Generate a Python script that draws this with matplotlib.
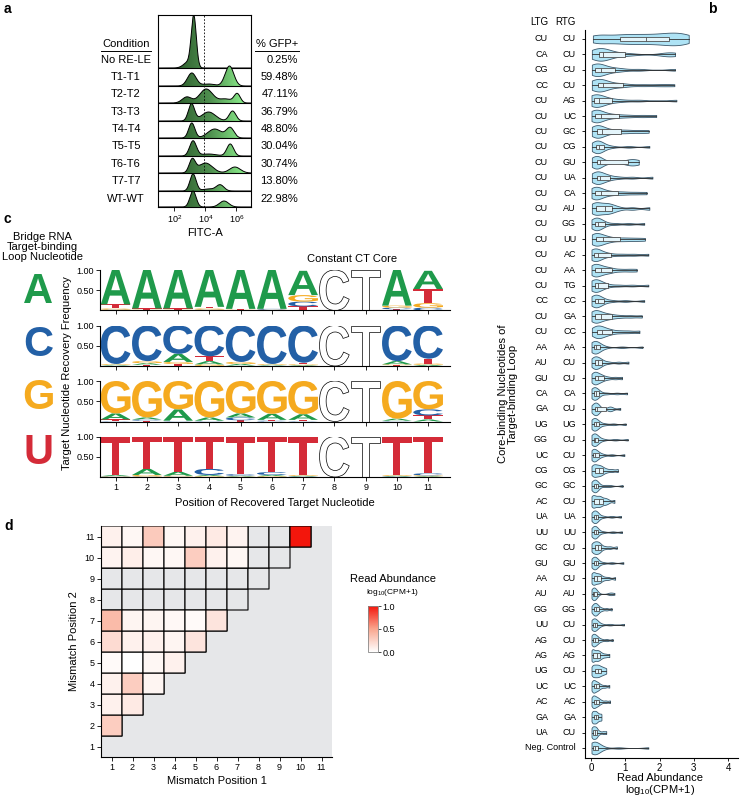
import numpy as np
import matplotlib
matplotlib.use('Agg')
import matplotlib.pyplot as plt
from matplotlib.colors import LinearSegmentedColormap, ListedColormap
from matplotlib.patches import PathPatch, Polygon
from matplotlib.textpath import TextPath
from matplotlib.font_manager import FontProperties
from matplotlib.transforms import Affine2D, blended_transform_factory
from matplotlib.lines import Line2D

plt.rcParams['font.family'] = ['Liberation Sans', 'DejaVu Sans']
plt.rcParams['mathtext.default'] = 'regular'
plt.rcParams['axes.linewidth'] = 0.8

# ---------------- data ----------------
# panel a: flow histograms, peaks as (log10 centre, width, height in px)
conditions = ['No RE-LE', 'T1-T1', 'T2-T2', 'T3-T3', 'T4-T4',
              'T5-T5', 'T6-T6', 'T7-T7', 'WT-WT']
gfp_pct = [0.25, 59.48, 47.11, 36.79, 48.80, 30.04, 30.74, 13.80, 22.98]
flow_peaks = [
    [(3.25, 0.16, 50), (2.9, 0.3, 6)],
    [(3.12, 0.28, 13), (5.55, 0.28, 20), (4.2, 0.4, 2)],
    [(2.8, 0.3, 6), (4.05, 0.42, 14), (6.05, 0.2, 9), (5.3, 0.4, 4)],
    [(3.1, 0.2, 17), (4.2, 0.45, 9), (5.75, 0.22, 10)],
    [(3.12, 0.2, 15), (4.6, 0.45, 9), (5.6, 0.25, 10)],
    [(3.2, 0.22, 15), (5.6, 0.22, 12), (4.2, 0.5, 2)],
    [(3.15, 0.2, 13), (4.0, 0.45, 10), (5.9, 0.35, 6)],
    [(3.2, 0.2, 17), (4.95, 0.25, 6), (4.2, 0.4, 2)],
    [(3.2, 0.2, 16), (5.2, 0.3, 6)],
]
gfp_gate = 3.92

# panel b: read abundance per core-binding pair
ltg = ['CU', 'CA', 'CG', 'CC', 'CU', 'CU', 'CU', 'CU', 'CU', 'CU', 'CU', 'CU',
       'CU', 'CU', 'CU', 'CU', 'CU', 'CC', 'CU', 'CU', 'AA', 'AU', 'GU', 'CA',
       'GA', 'UG', 'GG', 'UC', 'CG', 'GC', 'AC', 'UA', 'UU', 'GC', 'GU', 'AA',
       'AU', 'GG', 'UU', 'AG', 'AG', 'UG', 'UC', 'AC', 'GA', 'UA', '']
rtg = ['CU', 'CU', 'CU', 'CU', 'AG', 'UC', 'GC', 'CG', 'GU', 'UA', 'CA', 'AU',
       'GG', 'UU', 'AC', 'AA', 'TG', 'CC', 'GA', 'CC', 'AA', 'CU', 'CU', 'CA',
       'CU', 'UG', 'CU', 'CU', 'CG', 'GC', 'CU', 'UA', 'UU', 'CU', 'GU', 'CU',
       'AU', 'GG', 'CU', 'CU', 'AG', 'CU', 'UC', 'AC', 'GA', 'CU', 'Neg. Control']
abundance = [
    [0.05, 0.2, 0.4, 0.7, 0.9, 1.1, 1.3, 1.5, 1.7, 1.9, 2.1, 2.25, 2.4, 2.55, 2.7, 2.85],
    [0.02, 0.08, 0.15, 0.22, 0.26, 0.3, 0.33, 0.36, 0.45, 0.6, 0.85, 1.15, 2.15, 2.3, 2.45],
    [0.02, 0.05, 0.09, 0.12, 0.18, 0.24, 0.28, 0.35, 0.5, 0.7, 0.9, 1.4, 2.45],
    [0.02, 0.08, 0.14, 0.18, 0.24, 0.3, 0.33, 0.36, 0.55, 0.85, 0.95, 1.5, 2.0, 2.43],
    [0.01, 0.04, 0.07, 0.09, 0.14, 0.18, 0.22, 0.3, 0.45, 0.6, 0.9, 1.4, 2.49],
    [0.01, 0.05, 0.08, 0.11, 0.18, 0.24, 0.28, 0.4, 0.6, 0.8, 1.1, 1.5, 1.9],
    [0.02, 0.07, 0.12, 0.16, 0.22, 0.28, 0.33, 0.45, 0.65, 0.88, 1.1, 1.4, 1.68],
    [0.02, 0.07, 0.11, 0.14, 0.17, 0.2, 0.22, 0.27, 0.32, 0.38, 0.6, 1.1, 1.7],
    [0.02, 0.07, 0.12, 0.15, 0.18, 0.2, 0.22, 0.3, 0.6, 1.0, 1.1, 1.2, 1.3, 1.39],
    [0.02, 0.07, 0.12, 0.16, 0.2, 0.23, 0.26, 0.35, 0.45, 0.55, 0.8, 1.2, 1.79],
    [0.01, 0.05, 0.08, 0.11, 0.17, 0.23, 0.28, 0.4, 0.55, 0.77, 1.0, 1.3, 1.62],
    [0.02, 0.07, 0.11, 0.15, 0.22, 0.33, 0.41, 0.48, 0.55, 0.62, 0.8, 1.2, 1.7],
    [0.01, 0.05, 0.09, 0.12, 0.15, 0.18, 0.2, 0.25, 0.32, 0.4, 0.7, 1.1, 1.55],
    [0.02, 0.06, 0.1, 0.14, 0.2, 0.28, 0.34, 0.45, 0.6, 0.83, 1.05, 1.3, 1.57],
    [0.01, 0.04, 0.06, 0.09, 0.13, 0.16, 0.19, 0.28, 0.4, 0.57, 0.9, 1.25, 1.67],
    [0.01, 0.04, 0.07, 0.1, 0.16, 0.22, 0.26, 0.33, 0.42, 0.52, 0.62, 0.85, 1.1, 1.33],
    [0.01, 0.04, 0.07, 0.1, 0.13, 0.16, 0.19, 0.25, 0.35, 0.48, 0.8, 1.2, 1.67],
    [0.01, 0.04, 0.07, 0.1, 0.13, 0.16, 0.19, 0.24, 0.3, 0.37, 0.6, 1.0, 1.55],
    [0.01, 0.05, 0.08, 0.11, 0.17, 0.23, 0.28, 0.38, 0.5, 0.62, 0.85, 1.15, 1.48],
    [0.02, 0.08, 0.13, 0.18, 0.23, 0.28, 0.32, 0.4, 0.5, 0.62, 0.85, 1.1, 1.41],
    [0.01, 0.03, 0.06, 0.08, 0.1, 0.12, 0.14, 0.17, 0.21, 0.25, 0.4, 0.9, 1.5],
    [0.01, 0.04, 0.07, 0.1, 0.13, 0.16, 0.19, 0.23, 0.28, 0.33, 0.5, 0.8, 1.09],
    [0.01, 0.04, 0.07, 0.1, 0.13, 0.16, 0.2, 0.25, 0.3, 0.37, 0.5, 0.7, 0.9],
    [0.01, 0.03, 0.05, 0.07, 0.09, 0.11, 0.13, 0.16, 0.2, 0.24, 0.45, 0.75, 1.05],
    [0.01, 0.04, 0.07, 0.1, 0.12, 0.14, 0.16, 0.18, 0.21, 0.24, 0.5, 0.55, 0.6, 0.85],
    [0.01, 0.03, 0.05, 0.07, 0.09, 0.11, 0.13, 0.16, 0.2, 0.24, 0.4, 0.65, 1.01],
    [0.01, 0.03, 0.05, 0.07, 0.09, 0.1, 0.12, 0.14, 0.17, 0.2, 0.35, 0.7, 1.07],
    [0.01, 0.03, 0.04, 0.06, 0.08, 0.1, 0.12, 0.15, 0.19, 0.24, 0.35, 0.6, 0.97],
    [0.01, 0.04, 0.07, 0.1, 0.14, 0.18, 0.22, 0.26, 0.3, 0.35, 0.45, 0.6, 0.78],
    [0.01, 0.03, 0.05, 0.08, 0.1, 0.12, 0.14, 0.16, 0.18, 0.21, 0.4, 0.55, 0.92],
    [0.01, 0.03, 0.05, 0.08, 0.12, 0.16, 0.2, 0.24, 0.27, 0.3, 0.38, 0.42, 0.5, 0.68],
    [0.01, 0.03, 0.05, 0.08, 0.1, 0.12, 0.14, 0.16, 0.18, 0.21, 0.35, 0.6, 0.87],
    [0.01, 0.03, 0.05, 0.08, 0.1, 0.11, 0.13, 0.15, 0.17, 0.19, 0.35, 0.63, 0.9],
    [0.01, 0.04, 0.07, 0.1, 0.13, 0.16, 0.19, 0.22, 0.25, 0.28, 0.4, 0.55, 0.75],
    [0.01, 0.03, 0.05, 0.07, 0.09, 0.11, 0.13, 0.15, 0.17, 0.19, 0.35, 0.6, 0.94],
    [0.01, 0.03, 0.05, 0.07, 0.1, 0.14, 0.18, 0.22, 0.25, 0.28, 0.38, 0.5, 0.7],
    [0.01, 0.02, 0.03, 0.05, 0.06, 0.07, 0.08, 0.09, 0.1, 0.12, 0.14, 0.16, 0.18, 0.53, 0.58, 0.68],
    [0.01, 0.04, 0.07, 0.09, 0.11, 0.13, 0.15, 0.17, 0.2, 0.24, 0.32, 0.45, 0.6],
    [0.01, 0.02, 0.04, 0.06, 0.08, 0.1, 0.12, 0.14, 0.16, 0.18, 0.3, 0.55, 0.96],
    [0.01, 0.02, 0.04, 0.06, 0.08, 0.1, 0.12, 0.15, 0.18, 0.21, 0.3, 0.45, 0.63],
    [0.01, 0.02, 0.04, 0.06, 0.1, 0.14, 0.17, 0.2, 0.23, 0.27, 0.33, 0.42, 0.53],
    [0.01, 0.04, 0.07, 0.1, 0.13, 0.16, 0.19, 0.22, 0.25, 0.29, 0.33, 0.38, 0.44],
    [0.01, 0.03, 0.05, 0.07, 0.09, 0.11, 0.14, 0.17, 0.2, 0.23, 0.3, 0.4, 0.53],
    [0.01, 0.03, 0.05, 0.07, 0.09, 0.11, 0.14, 0.17, 0.2, 0.23, 0.3, 0.42, 0.55],
    [0.01, 0.03, 0.05, 0.07, 0.09, 0.11, 0.13, 0.15, 0.17, 0.2, 0.23, 0.27, 0.3],
    [0.01, 0.02, 0.04, 0.06, 0.08, 0.1, 0.12, 0.14, 0.16, 0.18, 0.25, 0.35, 0.44],
    [0.01, 0.02, 0.04, 0.06, 0.08, 0.1, 0.12, 0.15, 0.18, 0.21, 0.35, 0.8, 1.67],
]

# panel c: recovered target nucleotide frequencies (A, C, G, T) per position
logo_positions = [1, 2, 3, 4, 5, 6, 7, 10, 11]
core_positions = [8, 9]
loop_nts = ['A', 'C', 'G', 'U']
freq_loop_A = [[0.85, 0.02, 0.03, 0.10], [0.95, 0.01, 0.01, 0.03],
               [0.95, 0.01, 0.01, 0.03], [0.91, 0.02, 0.03, 0.04],
               [0.96, 0.01, 0.01, 0.02], [0.96, 0.02, 0.01, 0.01],
               [0.60, 0.12, 0.16, 0.10], [0.88, 0.04, 0.05, 0.03],
               [0.45, 0.07, 0.11, 0.35]]
freq_loop_C = [[0.02, 0.95, 0.02, 0.01], [0.04, 0.88, 0.05, 0.03],
               [0.20, 0.70, 0.05, 0.05], [0.08, 0.76, 0.04, 0.12],
               [0.04, 0.90, 0.05, 0.01], [0.02, 0.95, 0.02, 0.01],
               [0.02, 0.92, 0.02, 0.04], [0.08, 0.88, 0.02, 0.02],
               [0.03, 0.82, 0.03, 0.12]]
freq_loop_G = [[0.15, 0.01, 0.80, 0.04], [0.05, 0.03, 0.90, 0.02],
               [0.28, 0.01, 0.70, 0.01], [0.08, 0.01, 0.90, 0.01],
               [0.10, 0.07, 0.80, 0.03], [0.15, 0.02, 0.81, 0.02],
               [0.14, 0.01, 0.82, 0.03], [0.05, 0.01, 0.93, 0.01],
               [0.05, 0.15, 0.70, 0.10]]
freq_loop_U = [[0.03, 0.01, 0.01, 0.95], [0.15, 0.01, 0.04, 0.80],
               [0.10, 0.01, 0.02, 0.87], [0.03, 0.15, 0.02, 0.80],
               [0.02, 0.04, 0.01, 0.93], [0.03, 0.07, 0.02, 0.88],
               [0.02, 0.01, 0.02, 0.95], [0.02, 0.01, 0.02, 0.95],
               [0.02, 0.05, 0.02, 0.91]]

# panel d: double mismatch read abundance, row = position 2, columns = position 1
nan = np.nan
mm_pos2 = [2, 3, 4, 5, 6, 7, 8, 9, 10, 11]
mm_vals = [
    [0.28],
    [0.08, 0.12],
    [0.08, 0.28, 0.06],
    [0.03, 0.0, 0.05, 0.08],
    [0.20, 0.08, 0.08, 0.06, 0.15],
    [0.38, 0.06, 0.06, 0.04, 0.03, 0.15],
    [nan] * 7,
    [nan] * 8,
    [0.07, 0.10, 0.05, 0.05, 0.28, 0.08, 0.05, nan, nan],
    [0.08, 0.05, 0.30, 0.05, 0.08, 0.12, 0.07, nan, nan, 1.0],
]

# ---------------- figure ----------------
W, H = 740, 796
fig = plt.figure(figsize=(W / 100, H / 100), dpi=100)


def px_axes(x0, y0, x1, y1):
    return fig.add_axes([x0 / W, 1 - y1 / H, (x1 - x0) / W, (y1 - y0) / H])


def ftext(x, y, s, **kw):
    return fig.text(x / W, 1 - y / H, s, **kw)


def fline(x0, x1, y):
    fig.add_artist(Line2D([x0 / W, x1 / W], [1 - y / H] * 2, lw=0.7, color='k'))


for lab, x, y in [('a', 4, 9), ('b', 708, 9), ('c', 4, 219), ('d', 4, 526)]:
    ftext(x, y, lab, fontsize=10, fontweight='bold', va='center')

# ----- panel a -----
ax_a = px_axes(158, 15, 251, 207)
xlo, xhi = 0.94, 6.94
row_base = [139, 121, 104, 86, 69, 51, 34, 16, 0]
row_text_y = [60, 77, 94, 112, 129, 146, 164, 181, 199]
green = LinearSegmentedColormap.from_list('grn', ['#2b5a2b', '#4f8f4f', '#8ef28e'])
xs = np.linspace(xlo, xhi, 400)
grad = np.tile(np.linspace(0, 1, 256), (2, 1))
for i, (peaks, base) in enumerate(zip(flow_peaks, row_base)):
    dens = np.zeros_like(xs)
    for c, s, h in peaks:
        dens += h * np.exp(-0.5 * ((xs - c) / s) ** 2)
    ys = base + dens
    z = 2 + i * 3
    poly = Polygon(np.column_stack([np.r_[xs, xs[::-1]],
                                    np.r_[ys, np.full_like(xs, base)]]),
                   closed=True, fc='none', ec='none')
    ax_a.add_patch(poly)
    im = ax_a.imshow(grad, extent=[2.0, 6.6, 0, 192], aspect='auto',
                     cmap=green, zorder=z, origin='lower')
    im.set_clip_path(poly)
    ax_a.fill_between(xs, base, ys, where=xs < 2.0, color='#2b5a2b', zorder=z, lw=0)
    ax_a.fill_between(xs, base, ys, where=xs > 6.6, color='#8ef28e', zorder=z, lw=0)
    ax_a.plot(xs, ys, color='k', lw=0.7, zorder=z + 1)
    ax_a.axhline(base, color='k', lw=0.8, zorder=z + 1)
ax_a.axvline(gfp_gate, color='k', lw=0.6, ls=(0, (2, 2)), zorder=100)
ax_a.set_xlim(xlo, xhi)
ax_a.set_ylim(0, 192)
ax_a.set_yticks([])
ax_a.set_xticks([2, 4, 6])
ax_a.set_xticklabels(['10$^2$', '10$^4$', '10$^6$'])
ax_a.tick_params(axis='x', labelsize=6.5, length=3, width=0.6, pad=1.5)
ax_a.set_xlabel('FITC-A', fontsize=8, labelpad=2)

ftext(126, 44, 'Condition', fontsize=8, ha='center', va='center')
fline(101, 151, 50.5)
ftext(277, 44, '% GFP+', fontsize=8, ha='center', va='center')
fline(255, 299, 50.5)
for cond, pct, y in zip(conditions, gfp_pct, row_text_y):
    ftext(126, y, cond, fontsize=8, ha='center', va='center')
    ftext(298, y, f'{pct:.2f}%', fontsize=8, ha='right', va='center')

# ----- panel b -----
ax_b = px_axes(585, 30, 738, 758)
pos = np.arange(len(abundance))
parts = ax_b.violinplot(abundance, positions=pos, orientation='horizontal',
                        widths=0.82, showextrema=False, bw_method=0.3)
for body in parts['bodies']:
    body.set_facecolor('#aee3f5')
    body.set_edgecolor('#3c586b')
    body.set_linewidth(0.6)
    body.set_alpha(1)
ax_b.boxplot(abundance, positions=pos, orientation='horizontal', widths=0.28,
             whis=(0, 100), showfliers=False, patch_artist=True,
             boxprops=dict(facecolor='#e4f5fb', edgecolor='#505050', linewidth=0.6),
             whiskerprops=dict(color='#303030', linewidth=0.6),
             capprops=dict(visible=False),
             medianprops=dict(color='#505050', linewidth=0.6))
ax_b.set_xlim(-0.18, 4.29)
ax_b.set_ylim(46.65, -0.58)
ax_b.set_yticks(pos)
ax_b.set_yticklabels([])
ax_b.set_xticks([0, 1, 2, 3, 4])
ax_b.set_xticklabels(['0', '1', '2', '3', '4'])
ax_b.tick_params(labelsize=7, length=2.5, width=0.6, pad=1)
for s in ['top', 'right']:
    ax_b.spines[s].set_visible(False)
tr = blended_transform_factory(fig.transFigure, ax_b.transData)
for p, l, r in zip(pos, ltg, rtg):
    if l:
        ax_b.text(548 / W, p, l, transform=tr, ha='right', va='center', fontsize=6.5)
    ax_b.text(576 / W, p, r, transform=tr, ha='right', va='center', fontsize=6.5)
ftext(548, 22, 'LTG', fontsize=7, ha='right', va='center')
ftext(576, 22, 'RTG', fontsize=7, ha='right', va='center')
ftext(508, 394, 'Core-binding Nucleotides of\nTarget-binding Loop', fontsize=8,
      rotation=90, ha='center', va='center', linespacing=1.0)
ftext(660, 778, 'Read Abundance', fontsize=8, ha='center', va='center')
ftext(660, 790, 'log$_{10}$(CPM+1)', fontsize=8, ha='center', va='center')

# ----- panel c -----
nt_colors = {'A': '#1f9a4b', 'C': '#2360a6', 'G': '#f5aa1f', 'T': '#d42b38', 'U': '#d42b38'}
bases = ['A', 'C', 'G', 'T']
fp_logo = FontProperties(family='Liberation Sans', weight='bold')
glyphs = {}


def draw_letter(ax, ch, xc, y0, w, h, fc, ec='none', lw=0):
    if ch not in glyphs:
        glyphs[ch] = TextPath((0, 0), ch, size=1, prop=fp_logo)
    tp = glyphs[ch]
    bb = tp.get_extents()
    tf = (Affine2D().translate(-bb.x0, -bb.y0)
          .scale(w / bb.width, h / bb.height).translate(xc - w / 2, y0))
    ax.add_patch(PathPatch(tf.transform_path(tp), fc=fc, ec=ec, lw=lw))


logo_tops = [270, 325.5, 381, 436.5]
big_y = [292, 345, 398, 453]
for k, (nt, freqs) in enumerate(zip(loop_nts, [freq_loop_A, freq_loop_C,
                                               freq_loop_G, freq_loop_U])):
    ax = px_axes(100, logo_tops[k], 450, logo_tops[k] + 40.5)
    for p, f in zip(logo_positions, freqs):
        y0 = 0
        for i in np.argsort(f):
            if f[i] < 0.005:
                continue
            draw_letter(ax, bases[i], p, y0, 0.95, f[i], nt_colors[bases[i]])
            y0 += f[i]
    for p, ch in zip(core_positions, ['C', 'T']):
        draw_letter(ax, ch, p, 0, 0.95, 1.0, 'white', ec='k', lw=0.5)
    ax.set_xlim(0.5, 11.7)
    ax.set_ylim(0, 1.0)
    ax.set_yticks([0.5, 1.0])
    ax.set_yticklabels(['0.50', '1.00'])
    ax.set_xticks(range(1, 12))
    if k < 3:
        ax.set_xticklabels([])
    ax.tick_params(labelsize=6.5, length=3, width=0.6, pad=1.5)
    for s in ['top', 'right']:
        ax.spines[s].set_visible(False)
    ftext(38, big_y[k], nt, fontsize=30, color=nt_colors[nt], ha='center',
          va='center', fontweight='bold')
ftext(42, 247, 'Bridge RNA\nTarget-binding\nLoop Nucleotide', fontsize=8,
      ha='center', va='center', linespacing=1.05)
ftext(352, 259, 'Constant CT Core', fontsize=8, ha='center', va='center')
ftext(67, 373, 'Target Nucleotide Recovery Frequency', fontsize=8,
      rotation=90, ha='center', va='center')
ftext(275, 503, 'Position of Recovered Target Nucleotide', fontsize=8,
      ha='center', va='center')

# ----- panel d -----
ax_d = px_axes(101, 526, 332, 757)
ax_d.set_facecolor('#e6e7e9')
grid = np.full((11, 11), np.nan)
has_cell = np.zeros((11, 11), bool)
for y, row in zip(mm_pos2, mm_vals):
    for x, v in enumerate(row, start=1):
        grid[y - 1, x - 1] = v
        has_cell[y - 1, x - 1] = True
edges = np.arange(0.5, 12.0, 1.0)
# pcolor drops masked cells, so only the lower triangle gets outlined
ax_d.pcolor(edges, edges, np.ma.masked_where(~has_cell, np.zeros((11, 11))),
            cmap=ListedColormap(['#e6e7e9']), edgecolors='k', linewidth=0.8)
reds = LinearSegmentedColormap.from_list('rd', ['#ffffff', '#f9a68e', '#f3160c'])
mesh = ax_d.pcolor(edges, edges, np.ma.masked_invalid(grid), cmap=reds,
                   vmin=0, vmax=1, edgecolors='k', linewidth=0.8)
ax_d.set_xlim(0.5, 11.5)
ax_d.set_ylim(0.5, 11.5)
ax_d.set_xticks(range(1, 12))
ax_d.set_yticks(range(1, 12))
ax_d.tick_params(labelsize=6.5, length=3, width=0.6, pad=1.5)
for s in ['top', 'right']:
    ax_d.spines[s].set_visible(False)
ax_d.set_xlabel('Mismatch Position 1', fontsize=8, labelpad=3)
ax_d.set_ylabel('Mismatch Position 2', fontsize=8, labelpad=4)

cax = px_axes(368, 606, 378, 652)
cb = fig.colorbar(mesh, cax=cax, ticks=[0, 0.5, 1])
cb.ax.set_yticklabels(['0.0', '0.5', '1.0'])
cb.ax.tick_params(labelsize=6.5, length=2, width=0.5, pad=1)
cb.outline.set_edgecolor('#888888')
cb.outline.set_linewidth(0.6)
ftext(393, 579, 'Read Abundance', fontsize=8, ha='center', va='center')
ftext(393, 592, 'log$_{10}$(CPM+1)', fontsize=6, ha='center', va='center')

fig.savefig('out.png', dpi=100)
